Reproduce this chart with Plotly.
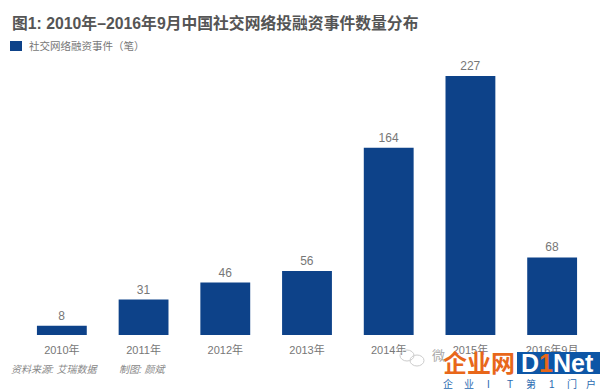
import plotly.graph_objects as go

categories = ["2010年", "2011年", "2012年", "2013年", "2014年", "2015年", "2016年9月"]
values = [8, 31, 46, 56, 164, 227, 68]
series_name = "社交网络融资事件（笔）"
title_text = "图1: 2010年–2016年9月中国社交网络投融资事件数量分布"
source_text = "资料来源: 艾瑞数据"
credit_text = "制图: 颜斌"
slogan_chars = ["企", "业", "I", "T", "第", "1", "门", "户"]
slogan_x = [448, 469, 488, 510, 531, 552, 572, 591]

W, H = 600, 391
L, R, T, B = 21, 7, 40, 56
PW, PH = W - L - R, H - T - B
FONT = "Liberation Sans, Noto Sans CJK SC, sans-serif"
BLUE = "#0d4289"
GREY = "#777777"

def px(x): return (x - L) / PW
def py(y): return (H - B - y) / PH

def note(x, y, text, size, color, bold=False, italic=False, anchor="left", font=FONT):
    if bold:
        text = f"<b>{text}</b>"
    if italic:
        text = f"<i>{text}</i>"
    return dict(xref="paper", yref="paper", x=px(x), y=py(y), text=text, showarrow=False,
                xanchor=anchor, yanchor="middle", font=dict(size=size, color=color, family=font))

def rect(x0, y0, x1, y1, color, kind="rect", line=None):
    return dict(type=kind, xref="paper", yref="paper", x0=px(x0), x1=px(x1), y0=py(y1), y1=py(y0),
                fillcolor=color, line=line or dict(width=0), layer="above")

fig = go.Figure(go.Bar(
    x=categories, y=values, name=series_name, marker=dict(color=BLUE, line=dict(width=0)),
    width=0.61, text=values, textposition="outside", cliponaxis=False,
    textfont=dict(size=12, color=GREY, family="Liberation Sans"), showlegend=False))

annotations = [
    note(10, 23, title_text, 15.8, "#555555", bold=True),
    note(27, 46, series_name, 10.5, GREY),
    note(9, 369, source_text, 10, "#888888", italic=True),
    note(117, 369, credit_text, 10, "#888888", italic=True),
    note(430, 355, "微", 13, "#aaaaaa"),
    note(441, 363, "企业网", 24, "#e8671a", bold=True),
    note(519, 363, "D", 25, "#ffffff", bold=True),
    note(537, 363, "1", 25, "#e8671a", bold=True),
    note(551, 363, "Net", 25, "#ffffff", bold=True),
]
annotations += [note(x, 384, c, 10, "#2a6ab0", anchor="center") for c, x in zip(slogan_chars, slogan_x)]

grey_line = dict(color="#cccccc", width=1)
shapes = [
    rect(10, 41, 22, 51, BLUE),
    rect(517, 352, 600, 374, "#0d56a6"),
    rect(400, 350, 414, 361, "rgba(0,0,0,0)", "circle", grey_line),
    rect(410, 355, 424, 366, "rgba(0,0,0,0)", "circle", grey_line),
]

fig.update_layout(
    width=W, height=H, autosize=False,
    margin=dict(l=L, r=R, t=T, b=B, pad=0),
    paper_bgcolor="#ffffff", plot_bgcolor="#ffffff",
    font=dict(family=FONT, color=GREY),
    xaxis=dict(type="category", range=[-0.5, 6.5], showgrid=False, showline=False, zeroline=False,
               ticks="outside", ticklen=5, tickcolor="rgba(0,0,0,0)",
               tickfont=dict(size=11, color=GREY, family=FONT)),
    yaxis=dict(range=[0, 258.5], visible=False),
    annotations=annotations, shapes=shapes,
)

fig.write_html("out.html", post_script="document.body.style.margin='0';",
               config={"displayModeBar": False})
